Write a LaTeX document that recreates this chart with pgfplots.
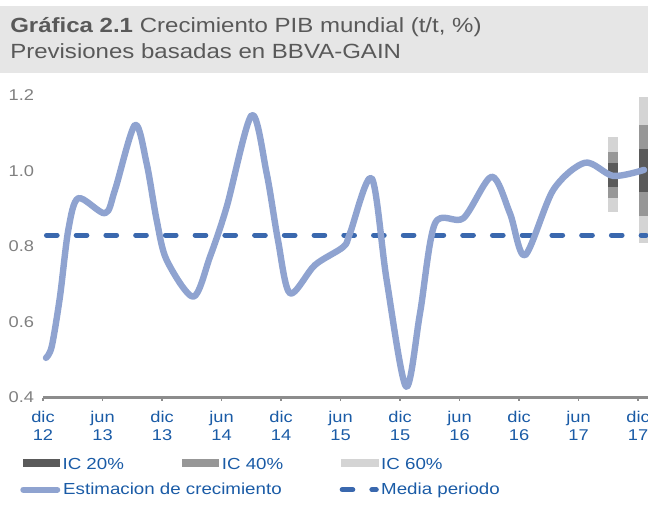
\documentclass[border=0pt]{standalone}
\usepackage{fontspec}
\setmainfont{Liberation Sans}[FakeStretch=1.17]
\usepackage{pgfplots}
\pgfplotsset{compat=1.18}
\definecolor{titlebg}{HTML}{E6E6E6}
\definecolor{titletext}{HTML}{595959}
\definecolor{lblue}{HTML}{1A5BA6}
\definecolor{ygray}{HTML}{808080}
\definecolor{axgray}{HTML}{8C8C8C}
\definecolor{estline}{HTML}{8FA3D0}
\definecolor{mediacol}{HTML}{3A68AE}
\definecolor{icA}{HTML}{5A5A5A}
\definecolor{icB}{HTML}{979797}
\definecolor{icC}{HTML}{D4D4D4}
\begin{document}
\begin{tikzpicture}
\useasboundingbox (0pt,0pt) rectangle (486pt,-379.5pt);
\fill[titlebg] (0pt,-4.5pt) rectangle (486pt,-54.75pt);
\node[anchor=base west, inner sep=0pt, text=titletext, font=\fontsize{15.4}{19.5}\selectfont] at (7.5pt,-24.75pt) {\textbf{Gráfica 2.1} Crecimiento PIB mundial (t/t, \%)};
\node[anchor=base west, inner sep=0pt, text=titletext, font=\fontsize{15.4}{19.5}\selectfont] at (7.5pt,-44.25pt) {Previsiones basadas en BBVA-GAIN};
\coordinate (AXSW) at (32.25pt,-298.125pt);
\begin{axis}[
  at={(AXSW)}, anchor=south west,
  scale only axis, width=453.75pt, height=226.5pt,
  xmin=0, xmax=61, ymin=0.4, ymax=1.2,
  clip=false,
  axis x line*=bottom, axis y line*=left,
  y axis line style={draw=none},
  x axis line style={-, draw=axgray, line width=1.6pt},
  xtick pos=bottom,
  tick align=outside,
  major tick length=2.5pt,
  xtick style={draw=axgray, line width=1pt},
  ytick style={draw=none},
  ytick={0.4,0.6,0.8,1.0,1.2},
  xtick={0,6,12,18,24,30,36,42,48,54,60},
  xticklabels={{dic\\12},{jun\\13},{dic\\13},{jun\\14},{dic\\14},{jun\\15},{dic\\15},{jun\\16},{dic\\16},{jun\\17},{dic\\17}},
  xticklabel style={anchor=north, inner sep=0pt, align=center, yshift=-7.9pt, text=lblue, font=\fontsize{11.7}{13.5}\selectfont},
  yticklabel style={anchor=east, inner sep=0pt, xshift=-4pt, text=ygray, font=\fontsize{11.7}{13.5}\selectfont},
  /pgf/number format/.cd, fixed, fixed zerofill, precision=1, assume math mode=true,
  /pgfplots/.cd,
  legend columns=3,
  legend cell align=left,
  legend style={at={(axis description cs:-0.038,-0.2003)}, anchor=north west, draw=none, fill=none, inner sep=0pt, outer sep=0pt, row sep=6.75pt, column sep=0pt,
    nodes={inner sep=0pt, outer sep=0pt, text height=9pt, text depth=3pt, text=lblue, font=\fontsize{12}{14}\selectfont}},
]
% fan chart intervals
\addplot[forget plot, draw=none, fill=icC] coordinates {(57,0.891) (57.95,0.891) (57.95,1.089) (57,1.089)} --cycle;
\addplot[forget plot, draw=none, fill=icB] coordinates {(57,0.928) (57.95,0.928) (57.95,1.051) (57,1.051)} --cycle;
\addplot[forget plot, draw=none, fill=icA] coordinates {(57,0.958) (57.95,0.958) (57.95,1.020) (57,1.020)} --cycle;
\addplot[forget plot, draw=none, fill=icC] coordinates {(60.1,0.808) (61,0.808) (61,1.195) (60.1,1.195)} --cycle;
\addplot[forget plot, draw=none, fill=icB] coordinates {(60.1,0.881) (61,0.881) (61,1.122) (60.1,1.122)} --cycle;
\addplot[forget plot, draw=none, fill=icA] coordinates {(60.1,0.945) (61,0.945) (61,1.058) (60.1,1.058)} --cycle;
% mean
\addplot[forget plot, mediacol, line width=3.75pt, line cap=round, dash pattern=on 8pt off 14.3pt] coordinates {(0.35,0.83) (60.8,0.83)};
% estimate
\addplot[forget plot, estline, line width=4.8pt, smooth, line cap=round, line join=round] coordinates {
(0.3,0.505) (0.88,0.535) (1.71,0.667) (2.55,0.844) (3.56,0.928) (6.25,0.888) (7.26,0.950) (9.27,1.122) (10.45,1.020) (11.46,0.870) (12.47,0.764) (15.15,0.667) (16.84,0.773) (18.52,0.905) (21.04,1.148) (22.55,0.994) (23.69,0.817) (24.9,0.676) (27.42,0.751) (30.28,0.799) (30.95,0.835) (33.14,0.981) (34.65,0.711) (36.6,0.429) (38.01,0.623) (39.52,0.861) (42.38,0.875) (45.24,0.985) (47.08,0.888) (48.6,0.777) (51.45,0.950) (54.65,1.022) (57.5,0.987) (60.6,1.003)};
% legend
\addlegendimage{legend image code/.code={\path (0pt,0pt) (31.5pt,0pt); \fill[icA] (2pt,-0.35pt) rectangle (29.2pt,4.85pt);}}
\addlegendentry{\makebox[87.6pt][l]{IC 20\%}}
\addlegendimage{legend image code/.code={\path (0pt,0pt) (31.5pt,0pt); \fill[icB] (2pt,-0.35pt) rectangle (29.2pt,4.85pt);}}
\addlegendentry{\makebox[87.6pt][l]{IC 40\%}}
\addlegendimage{legend image code/.code={\path (0pt,0pt) (31.5pt,0pt); \fill[icC] (2pt,-0.35pt) rectangle (29.2pt,4.85pt);}}
\addlegendentry{\makebox[87.6pt][l]{IC 60\%}}
\addlegendimage{legend image code/.code={\path (0pt,0pt) (31.5pt,0pt); \draw[estline, line width=4.5pt, line cap=round] (2.25pt,1pt) -- (27.75pt,1pt);}}
\addlegendentry{\rlap{Estimacion de crecimiento}}
\addlegendimage{legend image code/.code={\path (0pt,0pt) (31.5pt,0pt);}}
\addlegendentry{}
\addlegendimage{legend image code/.code={\path (0pt,0pt) (31.5pt,0pt); \draw[mediacol, line width=3.75pt, line cap=round, dash pattern=on 8pt off 14.3pt] (2.4pt,1pt) -- (28pt,1pt);}}
\addlegendentry{Media periodo}
\end{axis}
\end{tikzpicture}
\end{document}
